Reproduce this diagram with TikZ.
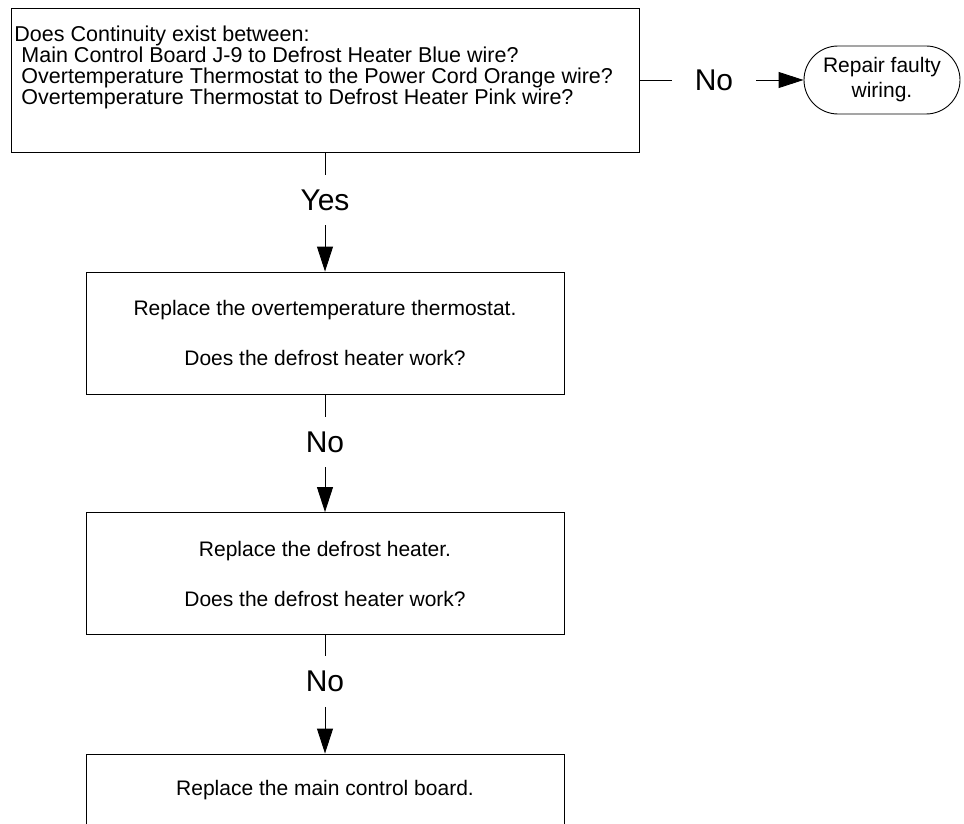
\documentclass[tikz,border=0pt]{standalone}
\usepackage{fontspec}
\setmainfont{Liberation Sans}
\usetikzlibrary{arrows.meta,shapes.misc}
\begin{document}
\begin{tikzpicture}[x=1pt, y=-1pt, >={Triangle[length=25pt,width=16pt]}, line width=0.9pt,
    every node/.style={font=\fontsize{21}{25}\selectfont, inner sep=0pt},
    stepbox/.style={draw, minimum width=478pt, minimum height=122pt, align=center},
    answer/.style={font=\fontsize{30}{30}\selectfont, minimum height=50pt}]
  \useasboundingbox (0,0) rectangle (964,824);
  \clip (0,0) rectangle (964,824);
  % question
  \node[draw, minimum width=628pt, minimum height=144pt] (cont) at (325,80) {};
  \node[anchor=north west, align=left, font=\fontsize{21.5}{21.3}\selectfont] (conttxt) at (14,25)
    {Does Continuity exist between:\\
     \hspace*{7pt}Main Control Board J-9 to Defrost Heater Blue wire?\\
     \hspace*{7pt}Overtemperature Thermostat to the Power Cord Orange wire?\\
     \hspace*{7pt}Overtemperature Thermostat to Defrost Heater Pink wire?};
  % no branch
  \node[answer, minimum width=84pt] (no1) at (714,80) {No};
  \node[draw, rounded rectangle, minimum width=156pt, minimum height=68pt, align=center]
    (repair) at (882,80) {Repair faulty\\wiring.};
  \draw (cont) -- (no1);
  \draw[->] (no1) -- (repair);
  % yes branch
  \node[answer] (yes) at (325,200) {Yes};
  \node[stepbox] (thermo) at (325,333)
    {Replace the overtemperature thermostat.\\[25pt]Does the defrost heater work?};
  \draw (cont) -- (yes);
  \draw[->] (yes) -- (thermo);
  \node[answer] (no2) at (325,442) {No};
  \node[stepbox] (heater) at (325,573.5)
    {Replace the defrost heater.\\[25pt]Does the defrost heater work?};
  \draw (thermo) -- (no2);
  \draw[->] (no2) -- (heater);
  \node[answer] (no3) at (325,681.5) {No};
  \node[stepbox, minimum height=72pt] (board) at (325,790) {Replace the main control board.};
  \draw (heater) -- (no3);
  \draw[->] (no3) -- (board);
\end{tikzpicture}
\end{document}
